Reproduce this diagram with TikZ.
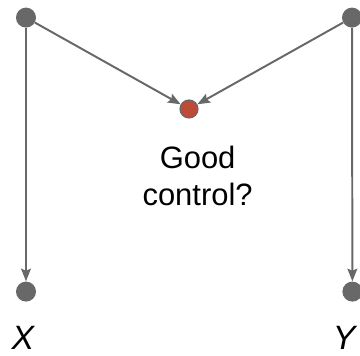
\documentclass[tikz,border=0pt]{standalone}
\usepackage{fontspec}
\setmainfont{Liberation Sans}
\usetikzlibrary{arrows.meta}
\definecolor{dotgray}{RGB}{104,104,104}
\definecolor{dotred}{RGB}{188,76,56}

\begin{document}
\begin{tikzpicture}[
  dot/.style={circle, fill=dotgray, minimum size=0.5cm, inner sep=0pt},
  ctrl/.style={circle, fill=dotred, draw=dotgray, line width=0.8pt, minimum size=0.45cm, inner sep=0pt},
  link/.style={draw=dotgray, line width=1.4pt, -{Stealth[length=9pt, width=7pt, inset=1.5pt]}},
  varlbl/.style={font=\fontsize{24}{28}\selectfont\itshape, inner sep=0pt},
  txt/.style={font=\fontsize{22}{26.5}\selectfont, align=center},
]
\useasboundingbox (0,0) rectangle (9,-8.9);

% dots
\node[dot] (tl) at (0.65,-0.44) {};
\node[dot] (tr) at (8.8,-0.44) {};
\node[ctrl] (mid) at (4.725,-2.725) {};
\node[dot] (x) at (0.65,-7.29) {};
\node[dot] (y) at (8.81,-7.29) {};

% labels
\node[varlbl] (xl) at (0.575,-8.45) {X};
\node[varlbl] (yl) at (8.6,-8.45) {Y};
\node[txt] (q) at (4.94,-4.4) {Good\\control?};

% arrows
\draw[link] (tl) -- (mid);
\draw[link] (tr) -- (mid);
\draw[link] (tl) -- (x);
\draw[link] (tr) -- (y);
\end{tikzpicture}
\end{document}
